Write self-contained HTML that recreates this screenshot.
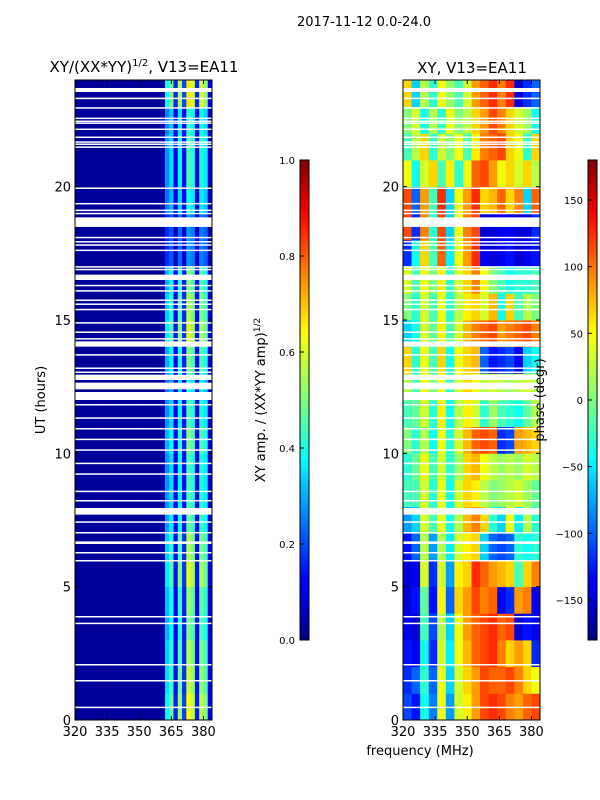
<!DOCTYPE html>
<html><head><meta charset="utf-8"><style>
body{margin:0;background:#fff;}
svg{display:block;font-family:"DejaVu Sans","Liberation Sans",sans-serif;}
</style></head><body>
<svg id="chart" width="600" height="800" viewBox="0 0 600 800">
<defs>
<linearGradient id="jet" x1="0" y1="1" x2="0" y2="0">
<stop offset="0" stop-color="#00007f"/><stop offset="0.11" stop-color="#0000ff"/>
<stop offset="0.125" stop-color="#0000ff"/><stop offset="0.34" stop-color="#00d5ff"/>
<stop offset="0.375" stop-color="#0ff"/><stop offset="0.5" stop-color="#7dff7a"/>
<stop offset="0.64" stop-color="#ff0"/><stop offset="0.89" stop-color="#f00"/>
<stop offset="1" stop-color="#7f0000"/></linearGradient>
</defs>
<text x="364" y="26" text-anchor="middle" font-size="13">2017-11-12 0.0-24.0</text>
<text x="144" y="72" text-anchor="middle" font-size="15">XY/(XX*YY)<tspan font-size="10" dy="-6">1/2</tspan><tspan dy="6">, V13=EA11</tspan></text>
<text x="472" y="73" text-anchor="middle" font-size="15">XY, V13=EA11</text>
<g id="left"></g>
<g id="right"></g>
<text transform="translate(45,400) rotate(-90)" text-anchor="middle" font-size="13">UT (hours)</text>
<text x="420" y="755" text-anchor="middle" font-size="13">frequency (MHz)</text>
<rect x="300" y="160" width="9" height="480" fill="url(#jet)" stroke="#000" stroke-width="1"/>
<rect x="588" y="160" width="9" height="480" fill="url(#jet)" stroke="#000" stroke-width="1"/>
<text transform="translate(265,400) rotate(-90)" text-anchor="middle" font-size="13">XY amp. / (XX*YY amp)<tspan font-size="9" dy="-5">1/2</tspan></text>
<text transform="translate(544,400) rotate(-90)" text-anchor="middle" font-size="13">phase (degr)</text>
<g id="cb" font-size="10"></g>
</svg>
<script>
const ampCols=[0.02,0.02,0.03,0.02,0.03,0.02,0.03,0.02,0.03,0.02,0.03,0.02,0.03,0.02,0.03,0.02,0.03,0.02,0.03,0.02,0.04,0.3,0.38,0.12,0.42,0.15,0.5,0.45,0.12,0.45,0.4,0.08];
const ampRows=[1.25,1.15,1.1,1.0,1.05,1.2,1.1,0.95,0.9,0.9,1.0,0.9,0.8,1.0,1.2,1.1,1.0,0.55,0.55,0.8,0.9,0.9,0.85,1.3];
const phaseRows=[
[-110,-130,-40,-90,40,-80,30,50,80,110,120,110,90,80,100,110],
[-120,-100,-30,-100,40,-60,30,60,80,110,100,100,110,90,60,40],
[-130,-140,-40,-120,30,-50,40,70,100,110,120,90,60,80,60,-120],
[-140,-150,-20,-110,20,-60,40,80,100,110,120,100,110,-150,-130,-140],
[-150,-130,-10,-130,40,-100,60,80,110,90,100,-140,-120,80,90,-140],
[-150,-140,30,-120,30,-80,50,60,120,100,80,70,60,-20,60,90],
[-130,-100,20,-80,20,-50,30,50,60,-60,-100,-110,-100,-30,-40,-30],
[-80,-60,30,-20,40,-40,20,70,90,60,-30,-60,40,-50,20,-30],
[-20,-20,30,-30,40,-40,30,60,50,20,0,10,20,30,10,-10],
[-30,-10,40,-20,30,-30,10,60,70,40,20,10,20,10,30,20],
[0,-30,20,-40,40,-30,30,70,100,110,100,-120,-110,80,70,60],
[-20,-10,30,-30,50,-40,20,50,30,-30,10,-20,-30,-40,-10,20],
[20,-20,40,0,40,-30,30,60,40,20,30,20,10,20,30,20],
[60,-30,40,-20,60,-40,40,60,70,-100,-130,-120,-110,-140,-60,-40],
[-60,-40,30,-10,50,-20,30,70,90,100,110,80,90,100,110,90],
[0,-30,30,-20,40,-30,20,50,60,30,70,-40,60,-20,20,0],
[30,-20,40,0,50,-30,30,60,90,40,0,-20,-40,-30,-30,-20],
[-120,-40,60,-20,100,-50,40,80,120,-140,-150,-140,-130,-150,-140,-130],
[110,-120,90,-30,110,-60,40,90,110,-150,-150,-140,-140,-150,-150,-120],
[110,-100,80,-20,120,-60,40,80,120,60,70,100,60,90,-60,100],
[40,-40,30,60,-20,50,-30,40,100,110,80,40,60,30,60,20],
[-20,20,60,-30,30,0,40,-20,50,90,100,110,60,40,-30,60],
[0,30,-40,20,-30,40,0,20,60,80,110,90,60,30,10,-40],
[60,-60,20,-30,40,10,-20,30,80,100,120,90,120,-150,-120,-100]];
const gaps=[[23.55,23.7],[23.28,23.34],[22.93,22.98],[22.55,22.59],[22.44,22.48],[22.37,22.41],[22.14,22.18],[21.84,21.88],[21.66,21.7],[21.58,21.62],[21.47,21.51],[19.93,19.97],[19.35,19.39],[19.1,19.14],[18.98,19.02],[18.49,18.85],[18.08,18.12],[17.92,17.96],[17.8,17.84],[17.6,17.64],[16.98,17.02],[16.88,16.92],[16.5,16.7],[16.28,16.32],[16.08,16.12],[15.73,15.77],[15.58,15.62],[15.38,15.42],[14.88,14.92],[14.53,14.57],[14.28,14.32],[14.0,14.2],[13.68,13.72],[13.18,13.22],[13.03,13.07],[12.75,12.95],[12.4,12.65],[12.0,12.3],[11.8,11.85],[11.3,11.35],[10.9,10.95],[10.5,10.55],[10.1,10.15],[9.6,9.65],[9.2,9.25],[8.55,8.6],[8.2,8.25],[7.7,7.95],[7.4,7.45],[7.0,7.05],[6.6,6.7],[6.25,6.3],[5.95,6.0],[3.85,3.9],[3.6,3.65],[2.05,2.1],[1.45,1.5],[0.45,0.5]];
const xTicks=[320,335,350,365,380];
const yTicks=[0,5,10,15,20];
const ampTicks=[0.0,0.2,0.4,0.6,0.8,1.0];
const phaseTicks=[-150,-100,-50,0,50,100,150];

const NS="http://www.w3.org/2000/svg";
function jet(v){v=Math.max(0,Math.min(1,v));
 const r=Math.min(4*v-1.5,-4*v+4.5),g=Math.min(4*v-0.5,-4*v+3.5),b=Math.min(4*v+0.5,-4*v+2.5);
 const c=x=>Math.round(255*Math.max(0,Math.min(1,x)));return `rgb(${c(r)},${c(g)},${c(b)})`;}
function mk(p,tag,a){const e=document.createElementNS(NS,tag);for(const k in a)e.setAttribute(k,a[k]);p.appendChild(e);return e;}
const fmin=320,fmax=384;
function yS(h){return 720-h*(640/24);}
function panel(gid,x0,colVals,colorOf,nm){
 const g=document.getElementById(gid);const w=137;
 const xS=f=>x0+(f-fmin)*w/(fmax-fmin);
 const nC=colVals.length;
 for(let r=0;r<24;r++){for(let c=0;c<nC;c++){
  const f0=fmin+c*(fmax-fmin)/nC,f1=fmin+(c+1)*(fmax-fmin)/nC;
  const e=mk(g,'rect',{x:xS(f0),y:yS(r+1),width:xS(f1)-xS(f0)+0.4,height:yS(r)-yS(r+1)+0.4,fill:colorOf(r,c)});
  
  
 }}
 gaps.forEach(gp=>{const e=mk(g,'rect',{x:x0,y:yS(gp[1]),width:w,height:Math.max(1.5,yS(gp[0])-yS(gp[1])),fill:'#fff'});
  
  });
 const fr=mk(g,'rect',{x:x0,y:80,width:w,height:640,fill:'none',stroke:'#000','stroke-width':1});
 
 
 xTicks.forEach(t=>{const x=xS(t);mk(g,'line',{x1:x,x2:x,y1:720,y2:716,stroke:'#000'});mk(g,'line',{x1:x,x2:x,y1:80,y2:84,stroke:'#000'});
  const tx=mk(g,'text',{x:x,y:736,'text-anchor':'middle','font-size':13});tx.textContent=t;
  
  });
 yTicks.forEach(t=>{const y=yS(t);mk(g,'line',{x1:x0,x2:x0+4,y1:y,y2:y,stroke:'#000'});mk(g,'line',{x1:x0+w,x2:x0+w-4,y1:y,y2:y,stroke:'#000'});
  const tx=mk(g,'text',{x:x0-4,y:y+5,'text-anchor':'end','font-size':13});tx.textContent=t;
  
  });
}
panel('left',75,ampCols,(r,c)=>jet(ampCols[c]*(c>20?ampRows[r]:1)),'amp');
panel('right',403,phaseRows[0],(r,c)=>jet((phaseRows[r][c]+180)/360),'phase');
const cb=document.getElementById('cb');
ampTicks.forEach(t=>{const y=640-t*480;mk(cb,'line',{x1:300,x2:304,y1:y,y2:y,stroke:'#000'});
 const tx=mk(cb,'text',{x:295,y:y+4,'text-anchor':'end'});tx.textContent=t.toFixed(1);
 
 });
phaseTicks.forEach(t=>{const y=400-t*480/360;mk(cb,'line',{x1:588,x2:592,y1:y,y2:y,stroke:'#000'});
 const tx=mk(cb,'text',{x:583,y:y+4,'text-anchor':'end'});tx.textContent=(t<0?'\u2212':'')+Math.abs(t);
 
 });
</script>
</body></html>
